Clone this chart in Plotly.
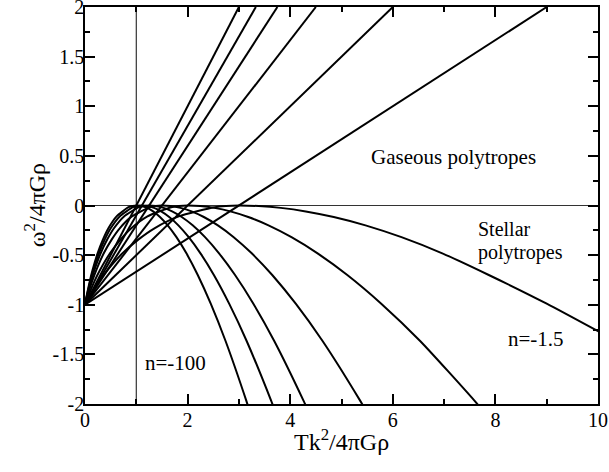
import plotly.graph_objects as go

# ---- data ----
# stellar polytropes (curves), one list pair per index n
stellar_n100_x = [0, 0.019, 0.048, 0.096, 0.146, 0.244, 0.351, 0.459, 0.615, 0.849, 0.925, 1.01,
                  1.104, 1.209, 1.328, 1.461, 1.612, 1.783, 1.977, 2.198, 2.451, 2.74, 3.144, 3.295]
stellar_n100_y = [-1, -0.945, -0.871, -0.757, -0.653, -0.484, -0.341, -0.227, -0.110, -0.017, -0.0046, 0,
                  -0.0055, -0.024, -0.0593, -0.116, -0.200, -0.319, -0.482, -0.70, -0.989, -1.365, -1.966, -2.21]

stellar_n10_x = [0, 0.021, 0.053, 0.105, 0.161, 0.269, 0.386, 0.504, 0.676, 0.934, 1.017, 1.11,
                 1.221, 1.345, 1.485, 1.642, 1.820, 2.022, 2.251, 2.512, 2.810, 3.151, 3.628, 3.806]
stellar_n10_y = [-1, -0.945, -0.871, -0.757, -0.653, -0.484, -0.341, -0.227, -0.110, -0.017, -0.0046, 0,
                 -0.0055, -0.024, -0.0593, -0.116, -0.200, -0.319, -0.482, -0.70, -0.989, -1.365, -1.966, -2.21]

stellar_n5_x = [0, 0.024, 0.060, 0.119, 0.181, 0.303, 0.435, 0.568, 0.761, 1.051, 1.145, 1.25,
                1.383, 1.531, 1.698, 1.886, 2.099, 2.340, 2.613, 2.925, 3.282, 3.689, 4.259, 4.472]
stellar_n5_y = [-1, -0.945, -0.871, -0.757, -0.653, -0.484, -0.341, -0.227, -0.110, -0.017, -0.0046, 0,
                -0.0055, -0.024, -0.0593, -0.116, -0.200, -0.319, -0.482, -0.70, -0.989, -1.365, -1.966, -2.21]

stellar_n3_x = [0, 0.029, 0.072, 0.143, 0.218, 0.363, 0.522, 0.681, 0.914, 1.262, 1.374, 1.5,
                1.670, 1.860, 2.076, 2.316, 2.590, 2.899, 3.250, 3.650, 4.108, 4.631, 5.363, 5.636]
stellar_n3_y = [-1, -0.945, -0.871, -0.757, -0.653, -0.484, -0.341, -0.227, -0.110, -0.017, -0.0046, 0,
                -0.0055, -0.024, -0.0593, -0.116, -0.200, -0.319, -0.482, -0.70, -0.989, -1.365, -1.966, -2.21]

stellar_n2_x = [0, 0.038, 0.096, 0.190, 0.290, 0.484, 0.696, 0.908, 1.218, 1.682, 1.832, 2.0,
                2.246, 2.521, 2.833, 3.182, 3.577, 4.025, 4.534, 5.113, 5.775, 6.533, 7.591, 7.987]
stellar_n2_y = [-1, -0.945, -0.871, -0.757, -0.653, -0.484, -0.341, -0.227, -0.110, -0.017, -0.0046, 0,
                -0.0055, -0.024, -0.0593, -0.116, -0.200, -0.319, -0.482, -0.70, -0.989, -1.365, -1.966, -2.21]

stellar_n15_x = [0, 0.057, 0.144, 0.285, 0.435, 0.726, 1.044, 1.362, 1.827, 2.523, 2.748, 3.0,
                 3.385, 3.816, 4.304, 4.849, 5.468, 6.169, 6.965, 7.871, 9.0, 10.35]
stellar_n15_y = [-1, -0.945, -0.871, -0.757, -0.653, -0.484, -0.341, -0.227, -0.110, -0.017, -0.0046, 0,
                 -0.0055, -0.024, -0.0593, -0.116, -0.200, -0.319, -0.482, -0.70, -0.989, -1.365]

# gaseous polytropes (straight lines from (0,-1) to the top edge)
gaseous_n100_x = [0, 3.0]
gaseous_n10_x = [0, 3.33]
gaseous_n5_x = [0, 3.75]
gaseous_n3_x = [0, 4.5]
gaseous_n2_x = [0, 6.0]
gaseous_n15_x = [0, 9.0]
gaseous_y = [-1, 2]

# reference lines
hline_x = [0, 10]
hline_y = [0, 0]
vline_x = [1, 1]
vline_y = [-2, 2]

x_tickvals = [0, 2, 4, 6, 8, 10]
x_ticktext = ["0", "2", "4", "6", "8", "10"]
y_tickvals = [-2, -1.5, -1, -0.5, 0, 0.5, 1, 1.5, 2]
y_ticktext = ["-2", "-1.5", "-1", "-0.5", "0", "0.5", "1", "1.5", "2"]

FONT = "Liberation Serif, Times New Roman, serif"

fig = go.Figure()

for xs, ys in [(hline_x, hline_y), (vline_x, vline_y)]:
    fig.add_trace(go.Scatter(x=xs, y=ys, mode="lines",
                             line=dict(color="#333333", width=1.2),
                             showlegend=False, hoverinfo="skip"))

for xs in [gaseous_n100_x, gaseous_n10_x, gaseous_n5_x, gaseous_n3_x, gaseous_n2_x, gaseous_n15_x]:
    fig.add_trace(go.Scatter(x=xs, y=gaseous_y, mode="lines",
                             line=dict(color="black", width=2),
                             showlegend=False))

for xs, ys in [(stellar_n100_x, stellar_n100_y), (stellar_n10_x, stellar_n10_y),
               (stellar_n5_x, stellar_n5_y), (stellar_n3_x, stellar_n3_y),
               (stellar_n2_x, stellar_n2_y), (stellar_n15_x, stellar_n15_y)]:
    fig.add_trace(go.Scatter(x=xs, y=ys, mode="lines",
                             line=dict(color="black", width=2, shape="spline", smoothing=0.6),
                             showlegend=False))

annots = [
    dict(x=7.19, y=0.49, text="Gaseous polytropes", xanchor="center", yanchor="middle", size=21),
    dict(x=7.63, y=-0.235, text="Stellar", xanchor="left", yanchor="middle", size=20),
    dict(x=7.63, y=-0.47, text="polytropes", xanchor="left", yanchor="middle", size=20),
    dict(x=1.77, y=-1.59, text="n=-100", xanchor="center", yanchor="middle", size=21),
    dict(x=8.79, y=-1.34, text="n=-1.5", xanchor="center", yanchor="middle", size=21),
]
for a in annots:
    size = a.pop("size")
    fig.add_annotation(showarrow=False, font=dict(family=FONT, size=size, color="black"), **a)

# axis titles
fig.add_annotation(xref="paper", yref="paper", x=0.5, y=-0.09, xanchor="center", yanchor="middle",
                   text="Tk<sup>2</sup>/4πGρ", showarrow=False,
                   font=dict(family=FONT, size=24, color="black"))
fig.add_annotation(xref="paper", yref="paper", x=-0.098, y=0.5, xanchor="center", yanchor="middle",
                   text="ω<sup>2</sup>/4πGρ", showarrow=False, textangle=-90,
                   font=dict(family=FONT, size=24, color="black"))

fig.update_layout(
    width=609, height=472,
    margin=dict(l=85, r=11, t=7, b=68, autoexpand=False),
    paper_bgcolor="white", plot_bgcolor="white",
    font=dict(family=FONT, color="black"),
)
fig.update_xaxes(
    range=[0, 10], tickvals=x_tickvals, ticktext=x_ticktext, automargin=False,
    showgrid=False, zeroline=False,
    showline=True, linecolor="black", linewidth=1.5, mirror="ticks",
    ticks="inside", ticklen=10, tickwidth=1.5, tickcolor="black",
    minor=dict(dtick=1, ticks="inside", ticklen=5, tickwidth=1.5, tickcolor="black", showgrid=False),
    tickfont=dict(family=FONT, size=20, color="black"),
    ticklabeloverflow="allow", ticklabelstandoff=-3,
)
fig.update_yaxes(
    range=[-2, 2], tickvals=y_tickvals, ticktext=y_ticktext, automargin=False,
    showgrid=False, zeroline=False,
    showline=True, linecolor="black", linewidth=1.5, mirror="ticks",
    ticks="inside", ticklen=10, tickwidth=1.5, tickcolor="black",
    minor=dict(dtick=0.25, ticks="inside", ticklen=5, tickwidth=1.5, tickcolor="black", showgrid=False),
    tickfont=dict(family=FONT, size=20, color="black"),
    ticklabeloverflow="allow", ticklabelstandoff=-5,
)

fig.write_html("out.html", config={"displayModeBar": False},
               post_script="document.body.style.margin='0px';")
